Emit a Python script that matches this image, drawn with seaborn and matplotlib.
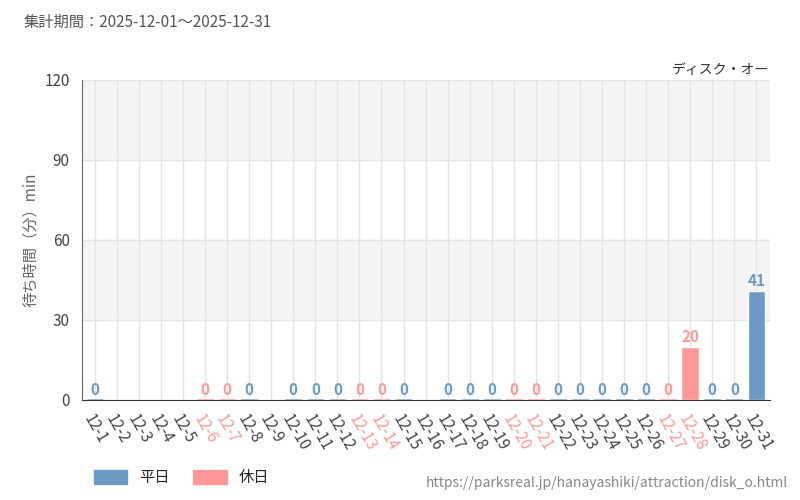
import numpy as np
import pandas as pd
import seaborn as sns
import matplotlib.pyplot as plt
from matplotlib.patches import Patch

days = ['12-%d' % i for i in range(1, 32)]
waits = [0, np.nan, np.nan, np.nan, np.nan, 0, 0, 0, np.nan, 0,
         0, 0, 0, 0, 0, np.nan, 0, 0, 0, 0,
         0, 0, 0, 0, 0, 0, 0, 20, 0, 0, 41]
holidays = ['12-6', '12-7', '12-13', '12-14', '12-20', '12-21', '12-27', '12-28']

blue = '#6a9bc4'
red = '#ff9896'
df = pd.DataFrame({'day': days, 'wait': waits})
df['kind'] = ['休日' if d in holidays else '平日' for d in days]

sns.set_style('white')
plt.rcParams['font.family'] = ['Noto Sans CJK JP', 'DejaVu Sans']

fig, ax = plt.subplots(figsize=(8, 5), dpi=100)
fig.subplots_adjust(left=0.102, right=0.962, top=0.84, bottom=0.2)

for lo, hi in [(30, 60), (90, 120)]:
    ax.axhspan(lo, hi, color='#f5f5f5', zorder=0)
for y in [30, 60, 90, 120]:
    ax.axhline(y, color='#e4e4e4', lw=1, zorder=0.5)
for i in range(len(days)):
    ax.axvline(i, color='#e4e4e4', lw=1, zorder=0.5)

plot_df = df.copy()
plot_df['h'] = plot_df['wait'].where(plot_df['wait'] != 0, 0.6)
sns.barplot(data=plot_df, x='day', y='h', hue='kind', palette={'平日': blue, '休日': red},
            dodge=False, width=0.8, saturation=1, ax=ax, legend=False, zorder=2)

for i, (v, k) in enumerate(zip(waits, df['kind'])):
    if not np.isnan(v):
        ax.text(i, v + 0.8, '%d' % v, ha='center', va='bottom', fontsize=11,
                color=blue if k == '平日' else red, fontweight='bold', fontstretch='condensed')

ax.set_xlim(-0.6, len(days) - 0.4)
ax.set_ylim(0, 120)
ax.set_yticks([0, 30, 60, 90, 120])
ax.tick_params(axis='y', labelsize=11, colors='#444444', length=5, width=1)
ax.tick_params(axis='x', labelsize=11, length=5, width=1, colors='#333333')
ax.set_xticks(range(len(days)))
ax.set_xticklabels(days, rotation=-60, ha='left', va='top', rotation_mode='anchor')
for lab in ax.get_xticklabels():
    lab.set_color(red if lab.get_text() in holidays else '#444444')
for s in ['top', 'right']:
    ax.spines[s].set_visible(False)
ax.spines['left'].set_color('#666666')
ax.spines['bottom'].set_color('#333333')
ax.set_xlabel('')
ax.set_ylabel('待ち時間（分）min', fontsize=11, color='#666666')
ax.text(1.0, 1.01, 'ディスク・オー', transform=ax.transAxes, ha='right', va='bottom',
        fontsize=10, color='#333333')

fig.text(0.03, 0.955, '集計期間：2025-12-01～2025-12-31', fontsize=11, color='#555555', va='center')
fig.text(0.985, 0.035, 'https://parksreal.jp/hanayashiki/attraction/disk_o.html', fontsize=10,
         color='#888888', ha='right', va='center')
fig.legend(handles=[Patch(color=blue, label='平日'), Patch(color=red, label='休日')],
           loc='lower left', bbox_to_anchor=(0.1, 0.0), ncol=2, frameon=False, fontsize=11,
           handlelength=2.2, handleheight=1.1, columnspacing=1.5)

fig.savefig('out.png')
